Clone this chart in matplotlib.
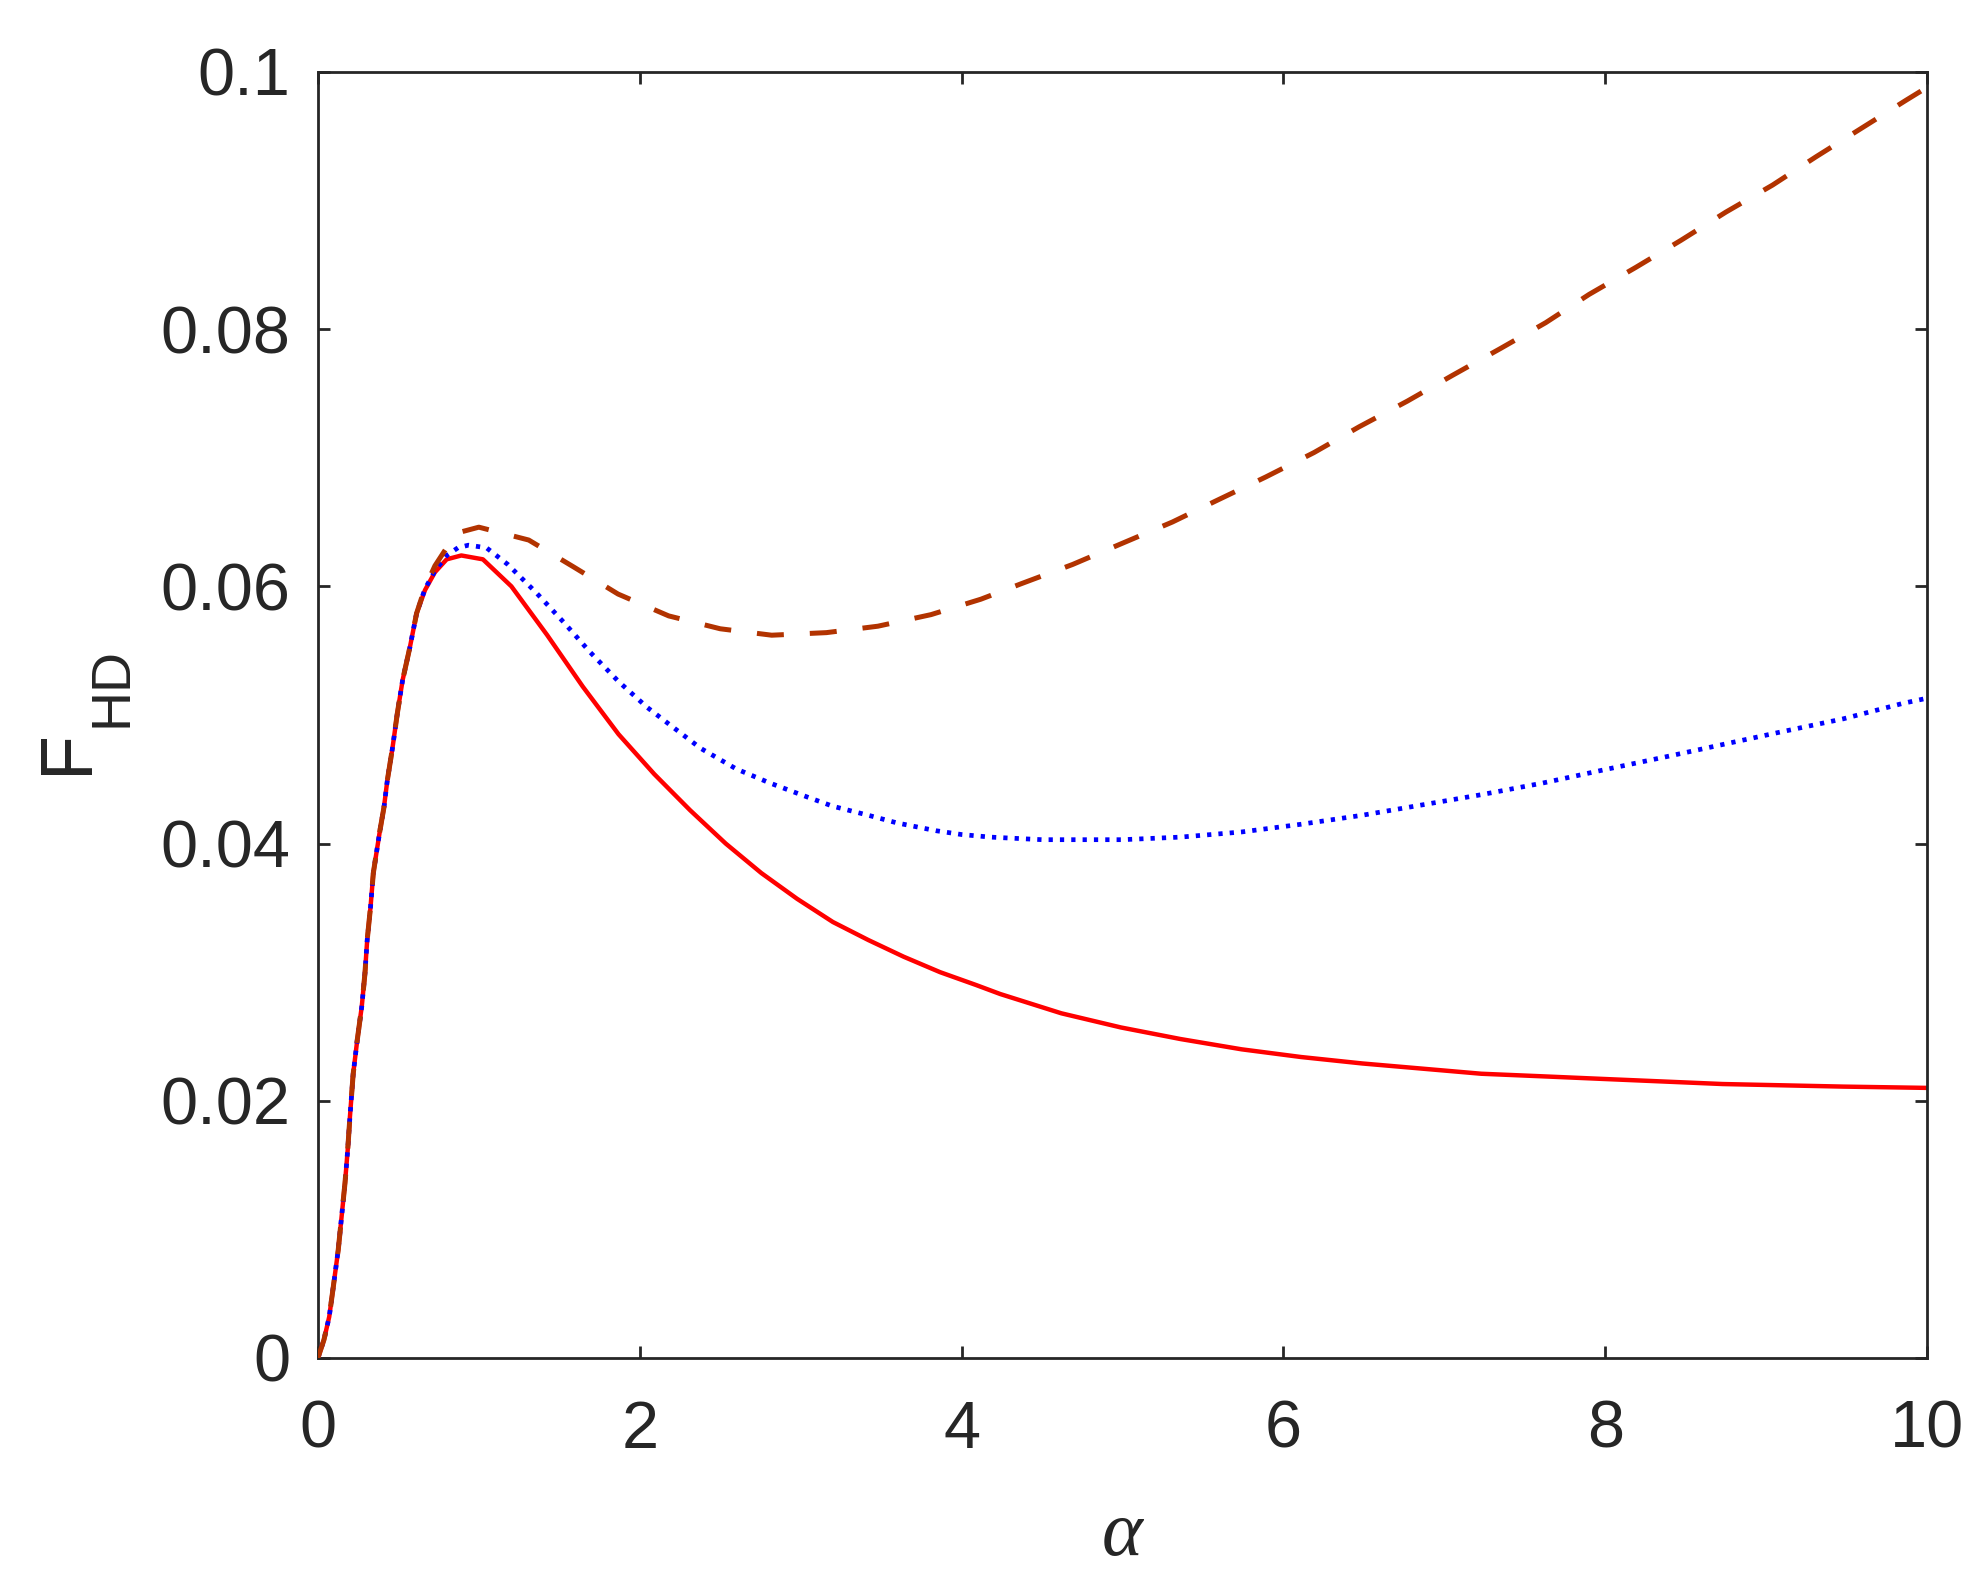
import matplotlib
matplotlib.use("Agg")
import matplotlib.pyplot as plt

# ---------------- data ----------------
alpha_red = [0, 0.037, 0.07, 0.095, 0.126, 0.147, 0.168, 0.185, 0.199, 0.219,
             0.244, 0.272, 0.292, 0.306, 0.327, 0.344, 0.36, 0.385, 0.41, 0.431,
             0.464, 0.493, 0.526, 0.572, 0.613, 0.665, 0.727, 0.80, 0.891, 1.025,
             1.202, 1.425, 1.646, 1.868, 2.09, 2.312, 2.534, 2.756, 2.978, 3.2,
             3.42, 3.64, 3.866, 4.09, 4.24, 4.62, 4.99, 5.36, 5.74, 6.11,
             6.49, 6.86, 7.23, 7.61, 7.98, 8.73, 9.48, 10.0]
F_red = [0, 0.0014, 0.0032, 0.0055, 0.0084, 0.0110, 0.0136, 0.0162, 0.0188, 0.0221,
         0.0247, 0.0273, 0.0299, 0.0325, 0.0351, 0.0377, 0.0390, 0.0410, 0.0428, 0.0449,
         0.0475, 0.0501, 0.0527, 0.0553, 0.0579, 0.0597, 0.0611, 0.0621, 0.0624, 0.0621,
         0.0600, 0.0562, 0.0522, 0.0485, 0.0454, 0.0426, 0.0400, 0.0377, 0.0357, 0.0339,
         0.0325, 0.0312, 0.0300, 0.0290, 0.0283, 0.0268, 0.0257, 0.0248, 0.0240, 0.0234,
         0.0229, 0.0225, 0.0221, 0.0219, 0.0217, 0.0213, 0.0211, 0.0210]

alpha_blue = [0, 0.037, 0.07, 0.095, 0.126, 0.147, 0.168, 0.185, 0.199, 0.219,
              0.244, 0.272, 0.292, 0.306, 0.327, 0.344, 0.36, 0.385, 0.41, 0.431,
              0.464, 0.493, 0.526, 0.572, 0.613, 0.665, 0.727, 0.80, 0.87, 0.935,
              1.047, 1.18, 1.357, 1.535, 1.69, 1.868, 2.045, 2.18, 2.379, 2.6,
              2.81, 3.045, 3.2, 3.42, 3.6, 3.84, 4.0, 4.18, 4.5, 5.0,
              5.36, 5.74, 6.11, 6.49, 6.86, 7.23, 7.61, 7.98, 8.36, 8.73,
              9.10, 9.48, 9.85, 10.0]
F_blue = [0, 0.0014, 0.0032, 0.0055, 0.0084, 0.0110, 0.0136, 0.0162, 0.0188, 0.0221,
          0.0247, 0.0273, 0.0299, 0.0325, 0.0351, 0.0377, 0.0390, 0.0410, 0.0428, 0.0449,
          0.0475, 0.0501, 0.0527, 0.0553, 0.0579, 0.0598, 0.0612, 0.0624, 0.0630, 0.0632,
          0.0630, 0.0617, 0.0595, 0.0571, 0.0549, 0.0526, 0.0506, 0.0493, 0.0474, 0.0458,
          0.0447, 0.0436, 0.0429, 0.0422, 0.0416, 0.0410, 0.0407, 0.0405, 0.0403, 0.0403,
          0.0405, 0.0409, 0.0415, 0.0422, 0.0430, 0.0438, 0.0447, 0.0457, 0.0467, 0.0477,
          0.0487, 0.0497, 0.0509, 0.0513]

alpha_brown = [0, 0.037, 0.07, 0.095, 0.126, 0.147, 0.168, 0.185, 0.199, 0.219,
               0.244, 0.272, 0.292, 0.306, 0.327, 0.344, 0.36, 0.385, 0.41, 0.431,
               0.464, 0.493, 0.526, 0.572, 0.613, 0.665, 0.727, 0.80, 0.88, 1.0,
               1.31, 1.59, 1.865, 2.18, 2.5, 2.82, 3.16, 3.48, 3.81, 4.12,
               4.37, 4.69, 4.99, 5.31, 5.59, 5.89, 6.19, 6.47, 6.77, 7.05,
               7.35, 7.63, 7.90, 8.19, 8.47, 8.75, 9.04, 9.31, 9.59, 9.87, 10.0]
F_brown = [0, 0.0014, 0.0032, 0.0055, 0.0084, 0.0110, 0.0136, 0.0162, 0.0188, 0.0221,
           0.0247, 0.0273, 0.0299, 0.0325, 0.0351, 0.0377, 0.0390, 0.0410, 0.0428, 0.0449,
           0.0475, 0.0501, 0.0527, 0.0553, 0.0579, 0.0599, 0.0616, 0.0630, 0.0642, 0.0646,
           0.0636, 0.0615, 0.0594, 0.0577, 0.0567, 0.0562, 0.0564, 0.0569, 0.0578, 0.0590,
           0.0602, 0.0617, 0.0633, 0.0650, 0.0667, 0.0685, 0.0704, 0.0724, 0.0744, 0.0764,
           0.0785, 0.0805, 0.0827, 0.0848, 0.0869, 0.0891, 0.0912, 0.0934, 0.0956, 0.0978, 0.0988]

x_ticks = [0, 2, 4, 6, 8, 10]
x_ticklabels = ["0", "2", "4", "6", "8", "10"]
y_ticks = [0, 0.02, 0.04, 0.06, 0.08, 0.1]
y_ticklabels = ["0", "0.02", "0.04", "0.06", "0.08", "0.1"]

# ---------------- figure ----------------
plt.rcParams["font.family"] = ["Liberation Sans", "DejaVu Sans"]
fig = plt.figure(figsize=(9.93, 7.92), dpi=200)
ax = fig.add_axes([0.1601, 0.1427, 0.8102, 0.8119])

dark = "#262626"
ax.plot(alpha_red, F_red, color="#FF0000", lw=1.6, solid_capstyle="butt",
        solid_joinstyle="round", zorder=2)
ax.plot(alpha_blue, F_blue, color="#0000FF", lw=1.7, linestyle=(0, (0.9, 1.5)),
        dash_capstyle="butt", zorder=3)
ax.plot(alpha_brown, F_brown, color="#B23300", lw=1.8, linestyle=(0, (5.4, 5.2)),
        dash_capstyle="butt", zorder=4)

ax.set_xlim(0, 10)
ax.set_ylim(0, 0.1)
ax.set_xticks(x_ticks)
ax.set_xticklabels(x_ticklabels)
ax.set_yticks(y_ticks)
ax.set_yticklabels(y_ticklabels)

ax.tick_params(axis="both", direction="in", length=4.3, width=1.0, colors=dark,
               labelsize=24, top=True, right=True, labelcolor=dark)
ax.tick_params(axis="x", pad=15)
ax.tick_params(axis="y", pad=10)
for s in ax.spines.values():
    s.set_linewidth(1.0)
    s.set_color(dark)

# y label F_HD (MATLAB-style subscript)
fig.text(0.0342, 0.5253, "F", rotation=90, fontsize=26.5, color=dark,
         ha="center", va="center")
fig.text(0.0564, 0.5663, "HD", rotation=90, fontsize=20, color=dark,
         ha="center", va="center")

# x label alpha
fig.text(0.5652, 0.0303, "α", fontsize=28, color=dark, family="Liberation Serif",
         style="italic", ha="center", va="center")

fig.savefig("out.png", dpi=200, facecolor="white")
